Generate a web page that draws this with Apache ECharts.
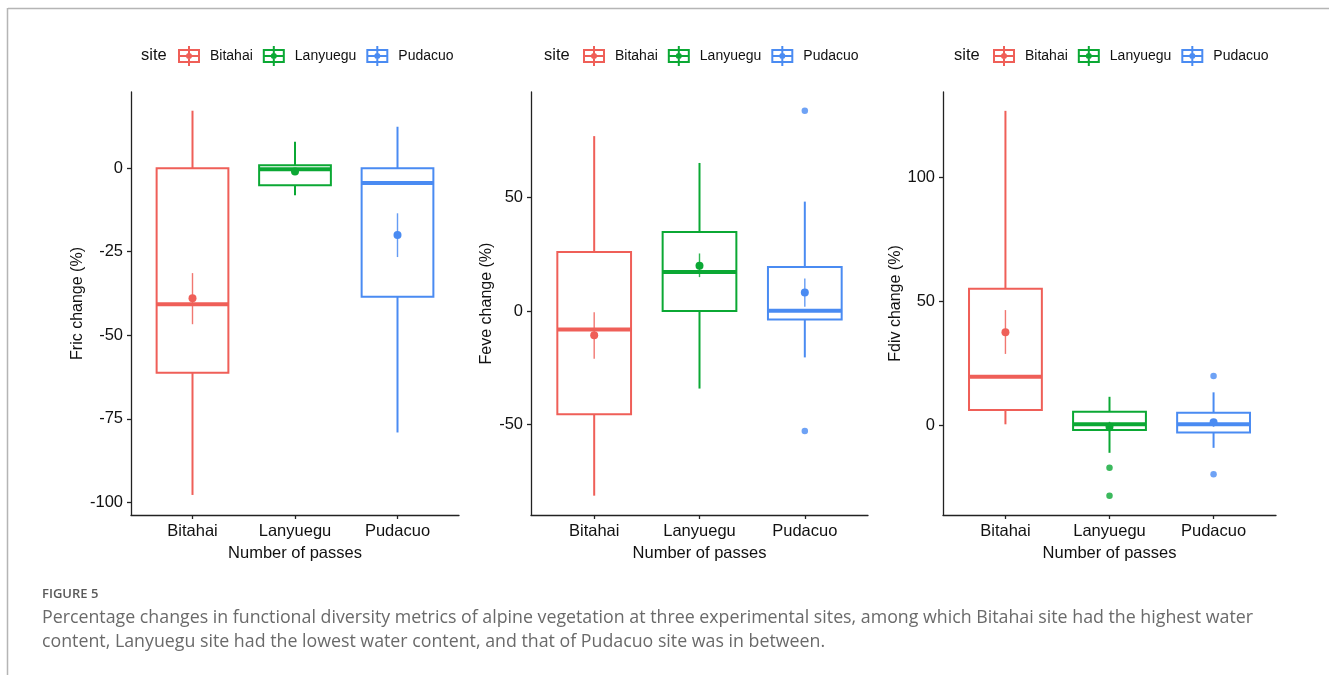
<!DOCTYPE html>
<html>
<head>
<meta charset="utf-8">
<script src="https://cdn.jsdelivr.net/npm/echarts@6/dist/echarts.min.js"></script>
<style>
html,body{margin:0;padding:0;background:#fff;}
#chart{width:1329px;height:675px;}
</style>
</head>
<body>
<div id="chart"></div>
<script>
// ---------- data ----------
const sites = ['Bitahai', 'Lanyuegu', 'Pudacuo'];
const xTickValues = [1, 2, 3];
const metricNames = ['Fric change (%)', 'Feve change (%)', 'Fdiv change (%)'];
const xAxisName = 'Number of passes';

// box stats per site: [lower whisker, Q1, median, Q3, upper whisker]
const fricStats = [[-97.8, -61.2, -40.7, 0.0, 17.2], [-8.1, -5.1, -0.3, 0.9, 7.9], [-79.1, -38.5, -4.4, 0.0, 12.4]];
const fricMean = [-38.9, -1.0, -20.0];
const fricErr = [[-46.7, -31.4], [-1.8, -0.3], [-26.6, -13.5]];
const fricOutliers = [[], [], []];
const fricTicks = [-100, -75, -50, -25, 0];

const feveStats = [[-81.2, -45.4, -8.1, 25.9, 76.9], [-34.1, 0.0, 17.1, 34.7, 65.1], [-20.4, -3.7, 0.1, 19.3, 48.1]];
const feveMean = [-10.7, 19.9, 8.1];
const feveErr = [[-21.0, -0.6], [14.9, 25.3], [1.9, 14.3]];
const feveOutliers = [[], [], [88.1, -52.8]];
const feveTicks = [-50, 0, 50];

const fdivStats = [[0.3, 6.1, 19.5, 55.0, 126.8], [-11.2, -2.0, 0.3, 5.4, 11.4], [-9.2, -3.0, 0.3, 5.0, 13.2]];
const fdivMean = [37.4, -0.7, 1.1];
const fdivErr = [[28.7, 46.4], [-2.7, 1.3], [-0.7, 2.4]];
const fdivOutliers = [[], [-17.2, -28.5], [19.8, -19.9]];
const fdivTicks = [0, 50, 100];

const yRanges = [[-103.8, 22.8], [-89.7, 96.3], [-36.3, 134.4]];

const captionLabel = 'FIGURE 5';
const captionLine1 = 'Percentage changes in functional diversity metrics of alpine vegetation at three experimental sites, among which Bitahai site had the highest water';
const captionLine2 = 'content, Lanyuegu site had the lowest water content, and that of Pudacuo site was in between.';

// ---------- styling ----------
const colors = ['#EF5F58', '#0BA834', '#4A8BF2'];
const FONT = '"Liberation Sans", Arial, sans-serif';
const CAP_FONT = '"Open Sans", "Noto Sans", sans-serif';
const BOX_W = 0.7;
const panels = [
  {stats: fricStats, mean: fricMean, err: fricErr, out: fricOutliers, ticks: fricTicks, left: 131, right: 870, gap: 45, legendLeft: 178, siteLeft: 141},
  {stats: feveStats, mean: feveMean, err: feveErr, out: feveOutliers, ticks: feveTicks, left: 531, right: 461, gap: 36, legendLeft: 583, siteLeft: 544},
  {stats: fdivStats, mean: fdivMean, err: fdivErr, out: fdivOutliers, ticks: fdivTicks, left: 943, right: 53, gap: 39, legendLeft: 993, siteLeft: 954}
];

const legendIcon = 'path://M10 0H12V20H10Z M0 3H22V5H0Z M0 15H22V17H0Z M0 3H2V17H0Z M20 3H22V17H20Z M0 9H22V11H0Z M8 10A3 3 0 1 1 14 10A3 3 0 1 1 8 10Z';

function boxRender(params, api) {
  const x = api.value(0);
  const lo = api.coord([x, api.value(1)]);
  const q1 = api.coord([x, api.value(2)]);
  const md = api.coord([x, api.value(3)]);
  const q3 = api.coord([x, api.value(4)]);
  const hi = api.coord([x, api.value(5)]);
  const half = api.size([BOX_W, 0])[0] / 2;
  const color = api.visual('color');
  return {
    type: 'group',
    children: [
      {type: 'line', shape: {x1: lo[0], y1: lo[1], x2: q1[0], y2: q1[1]}, style: {stroke: color, lineWidth: 2}},
      {type: 'line', shape: {x1: q3[0], y1: q3[1], x2: hi[0], y2: hi[1]}, style: {stroke: color, lineWidth: 2}},
      {type: 'rect', shape: {x: md[0] - half, y: q3[1], width: 2 * half, height: q1[1] - q3[1]}, style: {fill: '#fff', stroke: color, lineWidth: 2}},
      {type: 'line', shape: {x1: md[0] - half, y1: md[1], x2: md[0] + half, y2: md[1]}, style: {stroke: color, lineWidth: 4}}
    ]
  };
}

function meanRender(params, api) {
  const x = api.value(0);
  const m = api.coord([x, api.value(1)]);
  const lo = api.coord([x, api.value(2)]);
  const hi = api.coord([x, api.value(3)]);
  const color = api.visual('color');
  return {
    type: 'group',
    children: [
      {type: 'line', shape: {x1: lo[0], y1: lo[1], x2: hi[0], y2: hi[1]}, style: {stroke: color, lineWidth: 1.4, opacity: 0.85}},
      {type: 'circle', shape: {cx: m[0], cy: m[1], r: 4}, style: {fill: color}}
    ]
  };
}

const grids = [], xAxes = [], yAxes = [], series = [], legends = [], titles = [];
panels.forEach((p, pi) => {
  grids.push({left: p.left, right: p.right, top: 92, bottom: 160, containLabel: false});
  xAxes.push({
    type: 'value', gridIndex: pi, min: 0.4, max: 3.6,
    name: xAxisName, nameLocation: 'middle', nameGap: 29,
    nameTextStyle: {fontFamily: FONT, fontSize: 16.5, color: '#111'},
    axisLine: {show: true, onZero: false, lineStyle: {color: '#222', width: 1.3}},
    axisTick: {show: true, length: 4, customValues: xTickValues, lineStyle: {color: '#222', width: 1.3}},
    axisLabel: {customValues: xTickValues, margin: 8, fontFamily: FONT, fontSize: 16.5, color: '#111',
      formatter: v => sites[Math.round(v) - 1] || ''},
    splitLine: {show: false}
  });
  yAxes.push({
    type: 'value', gridIndex: pi, min: yRanges[pi][0], max: yRanges[pi][1],
    name: metricNames[pi], nameLocation: 'middle', nameRotate: 90, nameGap: p.gap,
    nameTextStyle: {fontFamily: FONT, fontSize: 16, color: '#111'},
    axisLine: {show: true, onZero: false, lineStyle: {color: '#222', width: 1.3}},
    axisTick: {show: true, length: 4, customValues: p.ticks, lineStyle: {color: '#222', width: 1.3}},
    axisLabel: {customValues: p.ticks, margin: 8, fontFamily: FONT, fontSize: 16.5, color: '#111'},
    splitLine: {show: false}
  });
  sites.forEach((s, si) => {
    series.push({
      name: s, type: 'custom', xAxisIndex: pi, yAxisIndex: pi,
      renderItem: boxRender, itemStyle: {color: colors[si]},
      encode: {x: 0, y: [1, 2, 3, 4, 5]},
      data: [[xTickValues[si]].concat(p.stats[si])], z: 2
    });
    series.push({
      name: s, type: 'custom', xAxisIndex: pi, yAxisIndex: pi,
      renderItem: meanRender, itemStyle: {color: colors[si]},
      encode: {x: 0, y: [1, 2, 3]},
      data: [[xTickValues[si], p.mean[si], p.err[si][0], p.err[si][1]]], z: 3
    });
    series.push({
      name: s, type: 'scatter', xAxisIndex: pi, yAxisIndex: pi,
      symbol: 'circle', symbolSize: 6.5, itemStyle: {color: colors[si]},
      data: p.out[si].map(v => [xTickValues[si], v]), z: 3
    });
  });
  legends.push({
    data: sites, left: p.legendLeft, top: 46, orient: 'horizontal', padding: 0,
    icon: legendIcon, itemWidth: 22, itemHeight: 20, itemGap: 10,
    selectedMode: false,
    textStyle: {fontFamily: FONT, fontSize: 14, color: '#111', padding: [0, 0, 0, 5]}
  });
  titles.push({
    text: 'site', left: p.siteLeft, top: 47, padding: 0,
    textStyle: {fontFamily: FONT, fontSize: 16.5, fontWeight: 'normal', color: '#111'}
  });
});

const chart = echarts.init(document.getElementById('chart'), null, {renderer: 'canvas'});
chart.setOption({
  backgroundColor: '#fff',
  animation: false,
  title: titles,
  legend: legends,
  grid: grids,
  xAxis: xAxes,
  yAxis: yAxes,
  series: series,
  graphic: [
    {type: 'line', shape: {x1: 8, y1: 8.5, x2: 1329, y2: 8.5}, style: {stroke: '#b5b5b5', lineWidth: 1.5}},
    {type: 'line', shape: {x1: 7.5, y1: 8, x2: 7.5, y2: 675}, style: {stroke: '#b5b5b5', lineWidth: 1.5}},
    {type: 'text', left: 42, top: 588, style: {text: captionLabel, font: '600 13px ' + CAP_FONT, fill: '#5a5a5a'}},
    {type: 'text', left: 42, top: 609, style: {text: captionLine1, font: '17.8px ' + CAP_FONT, fill: '#6a6a6a'}},
    {type: 'text', left: 42, top: 633, style: {text: captionLine2, font: '17.8px ' + CAP_FONT, fill: '#6a6a6a'}}
  ]
});
</script>
</body>
</html>
